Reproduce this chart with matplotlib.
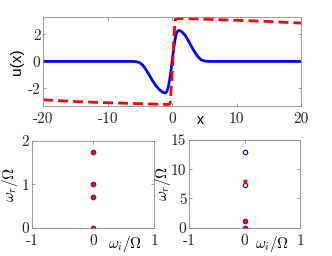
import matplotlib
matplotlib.use("Agg")
import matplotlib.pyplot as plt

# ---- data ----
x_blue = [-20, -6, -5.5, -5, -4.5, -4, -3.5, -3, -2.5, -2, -1.5, -1.2, -1, -0.8, -0.6, -0.4, -0.2,
          0, 0.2, 0.4, 0.6, 0.8, 1.0, 1.2, 1.5, 2, 2.5, 3, 3.5, 4, 4.5, 5, 5.5, 6, 20]
u_blue = [0, 0, -0.02, -0.1, -0.3, -0.65, -1.05, -1.45, -1.8, -2.08, -2.27, -2.33, -2.32, -2.2, -1.9, -1.4, -0.75,
          0, 0.8, 1.5, 1.98, 2.22, 2.29, 2.28, 2.2, 1.95, 1.55, 1.1, 0.7, 0.35, 0.12, 0.03, 0.01, 0, 0]
x_red = [-20, -15, -10, -5, -2, -0.5, -0.3, 0, 0.3, 0.5, 1, 2, 5, 10, 15, 20]
u_red = [-2.84, -2.97, -3.06, -3.13, -3.17, -3.19, -3.1, -1.0, 2.0, 3.12, 3.18, 3.17, 3.13, 3.05, 2.96, 2.84]

wi_left = [0, 0, 0, 0]
wr_left_blue = [1.74, 1.01, 0.71, 0.0]
wr_left_red = [1.74, 1.01, 0.71, 0.0]

wi_right_blue = [0, 0, 0, 0]
wr_right_blue = [13.0, 7.3, 1.1, 0.0]
wi_right_red = [0, 0, 0]
wr_right_red = [8.0, 1.1, 0.0]

plt.rcParams['mathtext.fontset'] = 'cm'
plt.rcParams['axes.unicode_minus'] = False
tickfont = 'cmr10'

fig = plt.figure(figsize=(3.32, 2.56), dpi=100)

def style(ax):
    for s in ax.spines.values():
        s.set_color('#8a8a8a')
        s.set_linewidth(0.6)
    ax.tick_params(direction='in', top=True, right=True, length=2.5, width=0.6,
                   colors='#8a8a8a', labelcolor='#262626', labelsize=11, pad=2)
    ax.tick_params(axis='x', pad=4.5)
    for lab in ax.get_xticklabels() + ax.get_yticklabels():
        lab.set_fontfamily(tickfont)

# top axes
ax1 = fig.add_axes([0.130, 0.586, 0.777, 0.348])
ax1.plot(x_blue, u_blue, color='#0000ff', lw=2)
ax1.plot(x_red, u_red, color='#ff0000', lw=2, dashes=(3.6, 1.8))
ax1.set_xlim(-20, 20)
ax1.set_ylim(-3.3, 3.3)
ax1.set_xticks([-20, -10, 0, 10, 20])
ax1.set_yticks([-2, 0, 2])
style(ax1)
ax1.set_xlabel('x', fontfamily='Liberation Sans', fontsize=10)
ax1.xaxis.set_label_coords(0.608, -0.08)
ax1.set_ylabel('u(x)', fontfamily='Liberation Sans', fontsize=11)
ax1.yaxis.set_label_coords(-0.075, 0.5)

# bottom-left
ax2 = fig.add_axes([0.096, 0.111, 0.368, 0.339])
ax2.plot(wi_left, wr_left_blue, 'o', ls='none', mfc='none', mec='#0000ff', ms=3.2, mew=0.8)
ax2.plot(wi_left, wr_left_red, 'o', ls='none', color='#ff0000', ms=2.0)
ax2.set_xlim(-1, 1)
ax2.set_ylim(0, 2)
ax2.set_xticks([-1, 0, 1])
ax2.set_yticks([0, 1, 2])
style(ax2)
ax2.set_xlabel(r'$\omega_i/\Omega$', fontsize=11)
ax2.xaxis.set_label_coords(0.76, -0.07)
ax2.set_ylabel(r'$\omega_r/\Omega$', fontsize=11)
ax2.yaxis.set_label_coords(-0.10, 0.5)

# bottom-right
ax3 = fig.add_axes([0.570, 0.111, 0.334, 0.342])
ax3.plot(wi_right_blue, wr_right_blue, 'o', ls='none', mfc='none', mec='#0000ff', ms=3.2, mew=0.8)
ax3.plot(wi_right_red, wr_right_red, 'o', ls='none', color='#ff0000', ms=2.0)
ax3.set_xlim(-1, 1)
ax3.set_ylim(0, 15)
ax3.set_xticks([-1, 0, 1])
ax3.set_yticks([0, 5, 10, 15])
style(ax3)
ax3.set_xlabel(r'$\omega_i/\Omega$', fontsize=11)
ax3.xaxis.set_label_coords(0.747, -0.07)
ax3.set_ylabel(r'$\omega_r/\Omega$', fontsize=11)
ax3.yaxis.set_label_coords(-0.15, 0.5)

fig.savefig('out.png', dpi=100)
